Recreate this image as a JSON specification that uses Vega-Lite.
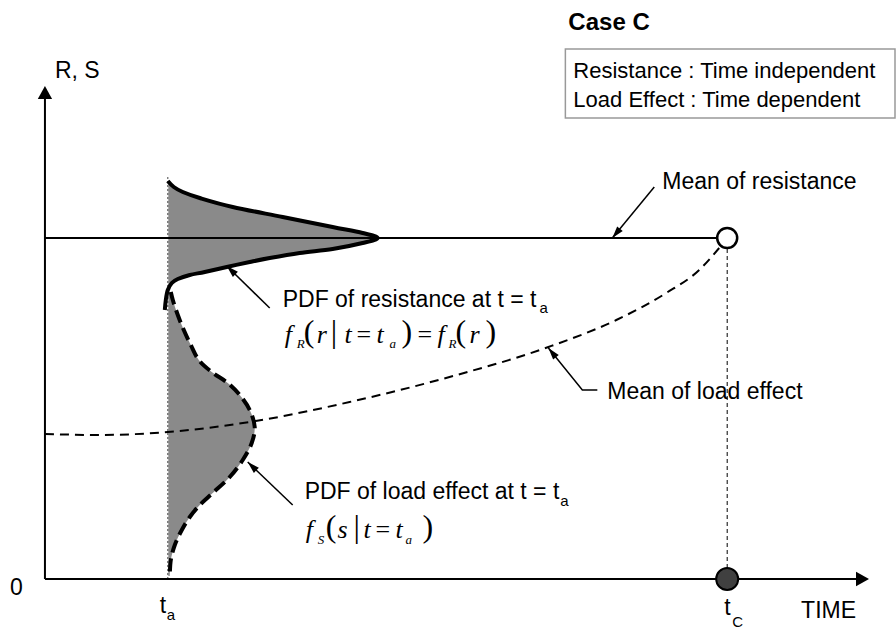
{
  "$schema": "https://vega.github.io/schema/vega-lite/v6.json",
  "width": 896,
  "height": 630,
  "autosize": {"type": "fit", "contains": "padding"},
  "padding": 0,
  "background": "white",
  "config": {"view": {"stroke": null}},
  "datasets": {
    "pdf": [
      {"curve": "R", "o": 1, "t": 123, "v": 398, "t0": 123},
      {"curve": "R", "o": 2, "t": 129, "v": 392, "t0": 123},
      {"curve": "R", "o": 3, "t": 138, "v": 387, "t0": 123},
      {"curve": "R", "o": 4, "t": 155, "v": 381, "t0": 123},
      {"curve": "R", "o": 5, "t": 188, "v": 372, "t0": 123},
      {"curve": "R", "o": 6, "t": 238, "v": 362, "t0": 123},
      {"curve": "R", "o": 7, "t": 288, "v": 352, "t0": 123},
      {"curve": "R", "o": 8, "t": 318, "v": 346, "t0": 123},
      {"curve": "R", "o": 9, "t": 333, "v": 341, "t0": 123},
      {"curve": "R", "o": 10, "t": 318, "v": 336, "t0": 123},
      {"curve": "R", "o": 11, "t": 288, "v": 330, "t0": 123},
      {"curve": "R", "o": 12, "t": 255, "v": 326, "t0": 123},
      {"curve": "R", "o": 13, "t": 225, "v": 321, "t0": 123},
      {"curve": "R", "o": 14, "t": 205, "v": 317, "t0": 123},
      {"curve": "R", "o": 15, "t": 182, "v": 312, "t0": 123},
      {"curve": "R", "o": 16, "t": 160, "v": 307, "t0": 123},
      {"curve": "R", "o": 17, "t": 145, "v": 304, "t0": 123},
      {"curve": "R", "o": 18, "t": 133, "v": 300, "t0": 123},
      {"curve": "R", "o": 19, "t": 127, "v": 296, "t0": 123},
      {"curve": "R", "o": 20, "t": 123, "v": 289, "t0": 123},
      {"curve": "R", "o": 21, "t": 121, "v": 279, "t0": 123},
      {"curve": "R", "o": 22, "t": 120, "v": 269, "t0": 123},
      {"curve": "S", "o": 1, "t": 126, "v": 287, "t0": 123},
      {"curve": "S", "o": 2, "t": 128, "v": 279, "t0": 123},
      {"curve": "S", "o": 3, "t": 133, "v": 264, "t0": 123},
      {"curve": "S", "o": 4, "t": 139, "v": 249, "t0": 123},
      {"curve": "S", "o": 5, "t": 146, "v": 234, "t0": 123},
      {"curve": "S", "o": 6, "t": 154, "v": 219, "t0": 123},
      {"curve": "S", "o": 7, "t": 167, "v": 207, "t0": 123},
      {"curve": "S", "o": 8, "t": 183, "v": 196, "t0": 123},
      {"curve": "S", "o": 9, "t": 195, "v": 184, "t0": 123},
      {"curve": "S", "o": 10, "t": 205, "v": 169, "t0": 123},
      {"curve": "S", "o": 11, "t": 210, "v": 152, "t0": 123},
      {"curve": "S", "o": 12, "t": 207, "v": 136, "t0": 123},
      {"curve": "S", "o": 13, "t": 198, "v": 119, "t0": 123},
      {"curve": "S", "o": 14, "t": 185, "v": 102, "t0": 123},
      {"curve": "S", "o": 15, "t": 168, "v": 86, "t0": 123},
      {"curve": "S", "o": 16, "t": 155, "v": 74, "t0": 123},
      {"curve": "S", "o": 17, "t": 145, "v": 62, "t0": 123},
      {"curve": "S", "o": 18, "t": 137, "v": 49, "t0": 123},
      {"curve": "S", "o": 19, "t": 130, "v": 34, "t0": 123},
      {"curve": "S", "o": 20, "t": 126, "v": 19, "t0": 123},
      {"curve": "S", "o": 21, "t": 125, "v": 3, "t0": 123}
    ],
    "segs": [
      {"id": "yaxis", "o": 1, "t": 0, "v": 0},
      {"id": "yaxis", "o": 2, "t": 0, "v": 484},
      {"id": "xaxis", "o": 1, "t": 0, "v": 0},
      {"id": "xaxis", "o": 2, "t": 812, "v": 0},
      {"id": "rmean", "o": 1, "t": 0, "v": 341},
      {"id": "rmean", "o": 2, "t": 673, "v": 341},
      {"id": "ta", "o": 1, "t": 123, "v": 0},
      {"id": "ta", "o": 2, "t": 123, "v": 404},
      {"id": "tc", "o": 1, "t": 683, "v": 11},
      {"id": "tc", "o": 2, "t": 683, "v": 330},
      {"id": "lead1", "o": 1, "t": 610, "v": 392},
      {"id": "lead1", "o": 2, "t": 568, "v": 341},
      {"id": "lead2", "o": 1, "t": 225, "v": 271},
      {"id": "lead2", "o": 2, "t": 182, "v": 313},
      {"id": "lead3", "o": 1, "t": 553, "v": 189},
      {"id": "lead3", "o": 2, "t": 538, "v": 189},
      {"id": "lead3", "o": 3, "t": 504, "v": 231},
      {"id": "lead4", "o": 1, "t": 248, "v": 74},
      {"id": "lead4", "o": 2, "t": 203, "v": 117},
      {"id": "smean", "o": 1, "t": 0, "v": 145},
      {"id": "smean", "o": 2, "t": 55, "v": 144},
      {"id": "smean", "o": 3, "t": 123, "v": 147},
      {"id": "smean", "o": 4, "t": 205, "v": 157},
      {"id": "smean", "o": 5, "t": 305, "v": 177},
      {"id": "smean", "o": 6, "t": 405, "v": 202},
      {"id": "smean", "o": 7, "t": 504, "v": 232},
      {"id": "smean", "o": 8, "t": 572, "v": 259},
      {"id": "smean", "o": 9, "t": 622, "v": 286},
      {"id": "smean", "o": 10, "t": 655, "v": 309},
      {"id": "smean", "o": 11, "t": 675, "v": 331}
    ],
    "pts": [
      {"id": "ytip", "t": 0, "v": 493},
      {"id": "xtip", "t": 825, "v": 0},
      {"id": "tip1", "t": 568, "v": 341},
      {"id": "tip2", "t": 182, "v": 313},
      {"id": "tip3", "t": 504, "v": 231},
      {"id": "tip4", "t": 203, "v": 117},
      {"id": "tcTop", "t": 683, "v": 341},
      {"id": "tcBottom", "t": 683, "v": 0}
    ],
    "box": [{"t1": 521, "t2": 851, "v1": 461, "v2": 530}],
    "texts": [
      {"kind": "label", "t": 10, "v": 501, "text": "R, S"},
      {"kind": "label", "t": 618, "v": 390, "text": "Mean of resistance"},
      {"kind": "label", "t": 238, "v": 272, "text": "PDF of resistance at t = t"},
      {"kind": "label", "t": 563, "v": 180, "text": "Mean of load effect"},
      {"kind": "label", "t": 260, "v": 80, "text": "PDF of load effect at t = t"},
      {"kind": "label", "t": -35, "v": -16, "text": "0"},
      {"kind": "label", "t": 115, "v": -34, "text": "t"},
      {"kind": "label", "t": 680, "v": -36, "text": "t"},
      {"kind": "label", "t": 757, "v": -39, "text": "TIME"},
      {"kind": "sub", "t": 495, "v": 266, "text": "a"},
      {"kind": "sub", "t": 516, "v": 73, "text": "a"},
      {"kind": "sub", "t": 122, "v": -41, "text": "a"},
      {"kind": "sub", "t": 688, "v": -48, "text": "C"},
      {"kind": "title", "t": 524, "v": 549, "text": "Case C"},
      {"kind": "box", "t": 529, "v": 501, "text": "Resistance : Time independent"},
      {"kind": "box", "t": 529, "v": 472, "text": "Load Effect : Time dependent"},
      {"kind": "math", "t": 240, "v": 236, "text": "f"},
      {"kind": "math", "t": 272, "v": 236, "text": "r"},
      {"kind": "math", "t": 300, "v": 236, "text": "t"},
      {"kind": "math", "t": 332, "v": 236, "text": "t"},
      {"kind": "math", "t": 393, "v": 236, "text": "f"},
      {"kind": "math", "t": 425, "v": 236, "text": "r"},
      {"kind": "paren", "t": 259, "v": 237, "text": "("},
      {"kind": "paren", "t": 286, "v": 237, "text": "|"},
      {"kind": "op", "t": 312, "v": 236, "text": "="},
      {"kind": "paren", "t": 357, "v": 237, "text": ")"},
      {"kind": "op", "t": 373, "v": 236, "text": "="},
      {"kind": "paren", "t": 411, "v": 237, "text": "("},
      {"kind": "paren", "t": 441, "v": 237, "text": ")"},
      {"kind": "mathsub", "t": 252, "v": 231, "text": "R"},
      {"kind": "mathsub", "t": 345, "v": 231, "text": "a"},
      {"kind": "mathsub", "t": 404, "v": 231, "text": "R"},
      {"kind": "math", "t": 261, "v": 41, "text": "f"},
      {"kind": "math", "t": 293, "v": 41, "text": "s"},
      {"kind": "math", "t": 319, "v": 41, "text": "t"},
      {"kind": "math", "t": 351, "v": 41, "text": "t"},
      {"kind": "paren", "t": 281, "v": 42, "text": "("},
      {"kind": "paren", "t": 309, "v": 42, "text": "|"},
      {"kind": "op", "t": 331, "v": 41, "text": "="},
      {"kind": "paren", "t": 378, "v": 42, "text": ")"},
      {"kind": "mathsub", "t": 273, "v": 35, "text": "S"},
      {"kind": "mathsub", "t": 361, "v": 35, "text": "a"}
    ]
  },
  "encoding": {
    "x": {"field": "t", "type": "quantitative", "scale": {"domain": [-45, 851], "nice": false, "zero": false}, "axis": null},
    "y": {"field": "v", "type": "quantitative", "scale": {"domain": [-51, 579], "nice": false, "zero": false}, "axis": null}
  },
  "layer": [
    {
      "data": {"name": "pdf"},
      "transform": [{"filter": "datum.curve === 'R' && datum.t >= 123"}],
      "mark": {"type": "area", "orient": "horizontal", "fill": "#8a8a8a", "opacity": 1, "interpolate": "cardinal"},
      "encoding": {"x2": {"field": "t0"}}
    },
    {
      "data": {"name": "pdf"},
      "transform": [{"filter": "datum.curve === 'S'"}],
      "mark": {"type": "area", "orient": "horizontal", "fill": "#8a8a8a", "opacity": 1, "interpolate": "catmull-rom"},
      "encoding": {"x2": {"field": "t0"}}
    },
    {
      "data": {"name": "segs"},
      "transform": [{"filter": "datum.id === 'ta'"}],
      "mark": {"type": "line", "color": "white", "strokeWidth": 1},
      "encoding": {"order": {"field": "o", "type": "quantitative"}}
    },
    {
      "data": {"name": "segs"},
      "transform": [{"filter": "datum.id === 'ta'"}],
      "mark": {"type": "line", "color": "#444444", "strokeWidth": 1, "strokeDash": [2, 2]},
      "encoding": {"order": {"field": "o", "type": "quantitative"}}
    },
    {
      "data": {"name": "segs"},
      "transform": [{"filter": "datum.id === 'tc'"}],
      "mark": {"type": "line", "color": "black", "strokeWidth": 1, "strokeDash": [4, 3]},
      "encoding": {"order": {"field": "o", "type": "quantitative"}}
    },
    {
      "data": {"name": "segs"},
      "transform": [{"filter": "datum.id === 'rmean'"}],
      "mark": {"type": "line", "color": "black", "strokeWidth": 2},
      "encoding": {"order": {"field": "o", "type": "quantitative"}}
    },
    {
      "data": {"name": "segs"},
      "transform": [{"filter": "datum.id === 'smean'"}],
      "mark": {"type": "line", "color": "black", "strokeWidth": 2, "strokeDash": [9, 6], "interpolate": "monotone"},
      "encoding": {"order": {"field": "o", "type": "quantitative"}}
    },
    {
      "data": {"name": "pdf"},
      "transform": [{"filter": "datum.curve === 'R'"}],
      "mark": {"type": "line", "color": "black", "strokeWidth": 4, "interpolate": "cardinal"},
      "encoding": {"order": {"field": "o", "type": "quantitative"}}
    },
    {
      "data": {"name": "pdf"},
      "transform": [{"filter": "datum.curve === 'S'"}],
      "mark": {"type": "line", "color": "black", "strokeWidth": 4, "strokeDash": [13, 6], "interpolate": "catmull-rom"},
      "encoding": {"order": {"field": "o", "type": "quantitative"}}
    },
    {
      "data": {"name": "segs"},
      "transform": [{"filter": "datum.id === 'xaxis' || datum.id === 'yaxis'"}],
      "mark": {"type": "line", "color": "black", "strokeWidth": 2},
      "encoding": {"detail": {"field": "id"}, "order": {"field": "o", "type": "quantitative"}}
    },
    {
      "data": {"name": "segs"},
      "transform": [{"filter": "indexof(['lead1','lead2','lead3','lead4'], datum.id) >= 0"}],
      "mark": {"type": "line", "color": "black", "strokeWidth": 1.5},
      "encoding": {"detail": {"field": "id"}, "order": {"field": "o", "type": "quantitative"}}
    },
    {
      "data": {"name": "pts"},
      "transform": [{"filter": "datum.id === 'ytip'"}],
      "mark": {"type": "point", "filled": true, "color": "black", "opacity": 1, "shape": "M0,0L0.55,1L-0.55,1Z", "size": 676, "angle": 0}
    },
    {
      "data": {"name": "pts"},
      "transform": [{"filter": "datum.id === 'xtip'"}],
      "mark": {"type": "point", "filled": true, "color": "black", "opacity": 1, "shape": "M0,0L0.55,1L-0.55,1Z", "size": 676, "angle": 90}
    },
    {
      "data": {"name": "pts"},
      "transform": [{"filter": "datum.id === 'tip1'"}],
      "mark": {"type": "point", "filled": true, "color": "black", "opacity": 1, "shape": "M0,0L0.6,2L-0.6,2Z", "size": 144, "angle": 219.5}
    },
    {
      "data": {"name": "pts"},
      "transform": [{"filter": "datum.id === 'tip2' || datum.id === 'tip4'"}],
      "mark": {"type": "point", "filled": true, "color": "black", "opacity": 1, "shape": "M0,0L0.6,2L-0.6,2Z", "size": 144, "angle": 314}
    },
    {
      "data": {"name": "pts"},
      "transform": [{"filter": "datum.id === 'tip3'"}],
      "mark": {"type": "point", "filled": true, "color": "black", "opacity": 1, "shape": "M0,0L0.6,2L-0.6,2Z", "size": 144, "angle": 321}
    },
    {
      "data": {"name": "pts"},
      "transform": [{"filter": "datum.id === 'tcTop'"}],
      "mark": {"type": "point", "shape": "circle", "filled": true, "fill": "white", "stroke": "black", "strokeWidth": 2.5, "size": 400, "opacity": 1}
    },
    {
      "data": {"name": "pts"},
      "transform": [{"filter": "datum.id === 'tcBottom'"}],
      "mark": {"type": "point", "shape": "circle", "filled": true, "fill": "#404040", "stroke": "black", "strokeWidth": 2, "size": 484, "opacity": 1}
    },
    {
      "data": {"name": "box"},
      "mark": {"type": "rect", "fill": null, "stroke": "#999999", "strokeWidth": 1.5},
      "encoding": {
        "x": {"field": "t1", "type": "quantitative"},
        "x2": {"field": "t2"},
        "y": {"field": "v1", "type": "quantitative"},
        "y2": {"field": "v2"}
      }
    },
    {
      "data": {"name": "texts"},
      "transform": [{"filter": "datum.kind === 'label'"}],
      "mark": {"type": "text", "align": "left", "baseline": "alphabetic", "font": "Liberation Sans", "fontSize": 23, "color": "black"},
      "encoding": {"text": {"field": "text"}}
    },
    {
      "data": {"name": "texts"},
      "transform": [{"filter": "datum.kind === 'sub'"}],
      "mark": {"type": "text", "align": "left", "baseline": "alphabetic", "font": "Liberation Sans", "fontSize": 15, "color": "black"},
      "encoding": {"text": {"field": "text"}}
    },
    {
      "data": {"name": "texts"},
      "transform": [{"filter": "datum.kind === 'title'"}],
      "mark": {"type": "text", "align": "left", "baseline": "alphabetic", "font": "Liberation Sans", "fontSize": 24, "fontWeight": "bold", "color": "black"},
      "encoding": {"text": {"field": "text"}}
    },
    {
      "data": {"name": "texts"},
      "transform": [{"filter": "datum.kind === 'box'"}],
      "mark": {"type": "text", "align": "left", "baseline": "alphabetic", "font": "Liberation Sans", "fontSize": 22, "color": "black"},
      "encoding": {"text": {"field": "text"}}
    },
    {
      "data": {"name": "texts"},
      "transform": [{"filter": "datum.kind === 'math'"}],
      "mark": {"type": "text", "align": "left", "baseline": "alphabetic", "font": "Liberation Serif", "fontSize": 26, "fontStyle": "italic", "color": "black"},
      "encoding": {"text": {"field": "text"}}
    },
    {
      "data": {"name": "texts"},
      "transform": [{"filter": "datum.kind === 'op'"}],
      "mark": {"type": "text", "align": "left", "baseline": "alphabetic", "font": "Liberation Serif", "fontSize": 26, "color": "black"},
      "encoding": {"text": {"field": "text"}}
    },
    {
      "data": {"name": "texts"},
      "transform": [{"filter": "datum.kind === 'paren'"}],
      "mark": {"type": "text", "align": "left", "baseline": "alphabetic", "font": "Liberation Serif", "fontSize": 32, "color": "black"},
      "encoding": {"text": {"field": "text"}}
    },
    {
      "data": {"name": "texts"},
      "transform": [{"filter": "datum.kind === 'mathsub'"}],
      "mark": {"type": "text", "align": "left", "baseline": "alphabetic", "font": "Liberation Serif", "fontSize": 13, "fontStyle": "italic", "color": "black"},
      "encoding": {"text": {"field": "text"}}
    }
  ]
}
